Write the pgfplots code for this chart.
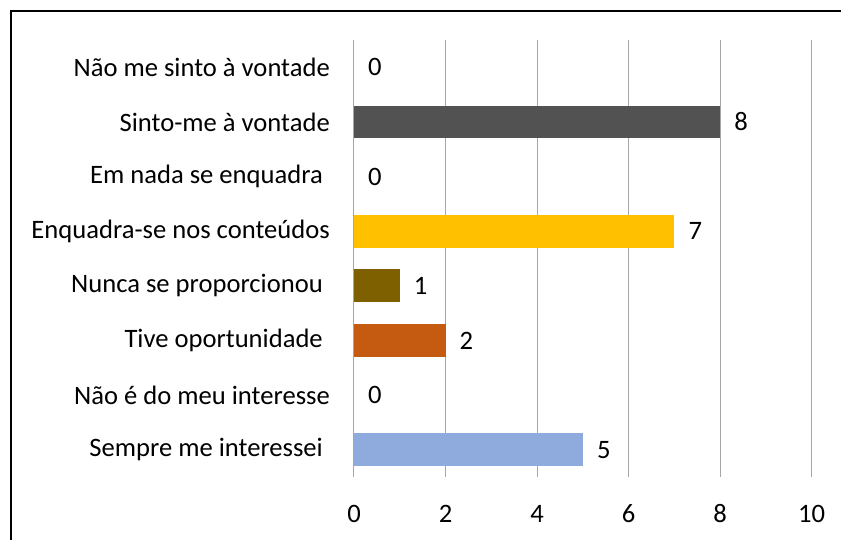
\documentclass[border=0pt]{standalone}
\usepackage{fontspec}
\setmainfont{Carlito}
\usepackage{pgfplots}
\pgfplotsset{compat=1.18}
\definecolor{cgray}{HTML}{525252}
\definecolor{cyellow}{HTML}{FFC000}
\definecolor{colive}{HTML}{7F6000}
\definecolor{corange}{HTML}{C55A11}
\definecolor{cblue}{HTML}{8FAADC}
\definecolor{gridgray}{HTML}{A6A6A6}
\newcommand{\trailsp}{\hspace*{7pt}}
\begin{document}
\fontsize{26.6}{32}\selectfont
\begin{tikzpicture}
\begin{axis}[
  scale only axis, width=457.7pt, height=437pt,
  xmin=0, xmax=10, ymin=-0.5, ymax=7.5,
  xtick={0,2,...,10}, ytick={0,...,7},
  yticklabels={Sempre me interessei\trailsp, Não é do meu interesse, Tive oportunidade\trailsp, Nunca se proporcionou\trailsp, Enquadra-se nos conteúdos, Em nada se enquadra\trailsp, Sinto-me à vontade, Não me sinto à vontade},
  major tick length=0pt,
  axis line style={draw=none},
  xmajorgrids, grid style={color=gridgray, line width=1pt},
  xbar, bar width=32.7pt,
  every axis plot/.append style={bar shift=0pt, draw=none},
  nodes near coords,
  nodes near coords style={anchor=west, inner sep=0pt, xshift=14pt, text=black, font=\fontsize{26.6}{32}\selectfont},
  /pgf/number format/assume math mode=true,
  tick label style={font=\fontsize{26.6}{32}\selectfont},
  yticklabel style={anchor=east, inner sep=0pt, xshift=-24pt},
  xticklabel style={anchor=base, inner sep=0pt, yshift=-46pt},
  clip=false,
]
\addplot[fill=cblue] coordinates {(5,0)};
\addplot[fill=white] coordinates {(0,1)};
\addplot[fill=corange] coordinates {(2,2)};
\addplot[fill=colive] coordinates {(1,3)};
\addplot[fill=cyellow] coordinates {(7,4)};
\addplot[fill=white] coordinates {(0,5)};
\addplot[fill=cgray] coordinates {(8,6)};
\addplot[fill=white] coordinates {(0,7)};
\end{axis}
\path[use as bounding box] (-354pt,-63pt) rectangle (487pt,477pt);
\draw[line width=2.5pt] (-343pt,-63pt) -- (-343pt,466pt) -- (487pt,466pt);
\end{tikzpicture}
\end{document}
